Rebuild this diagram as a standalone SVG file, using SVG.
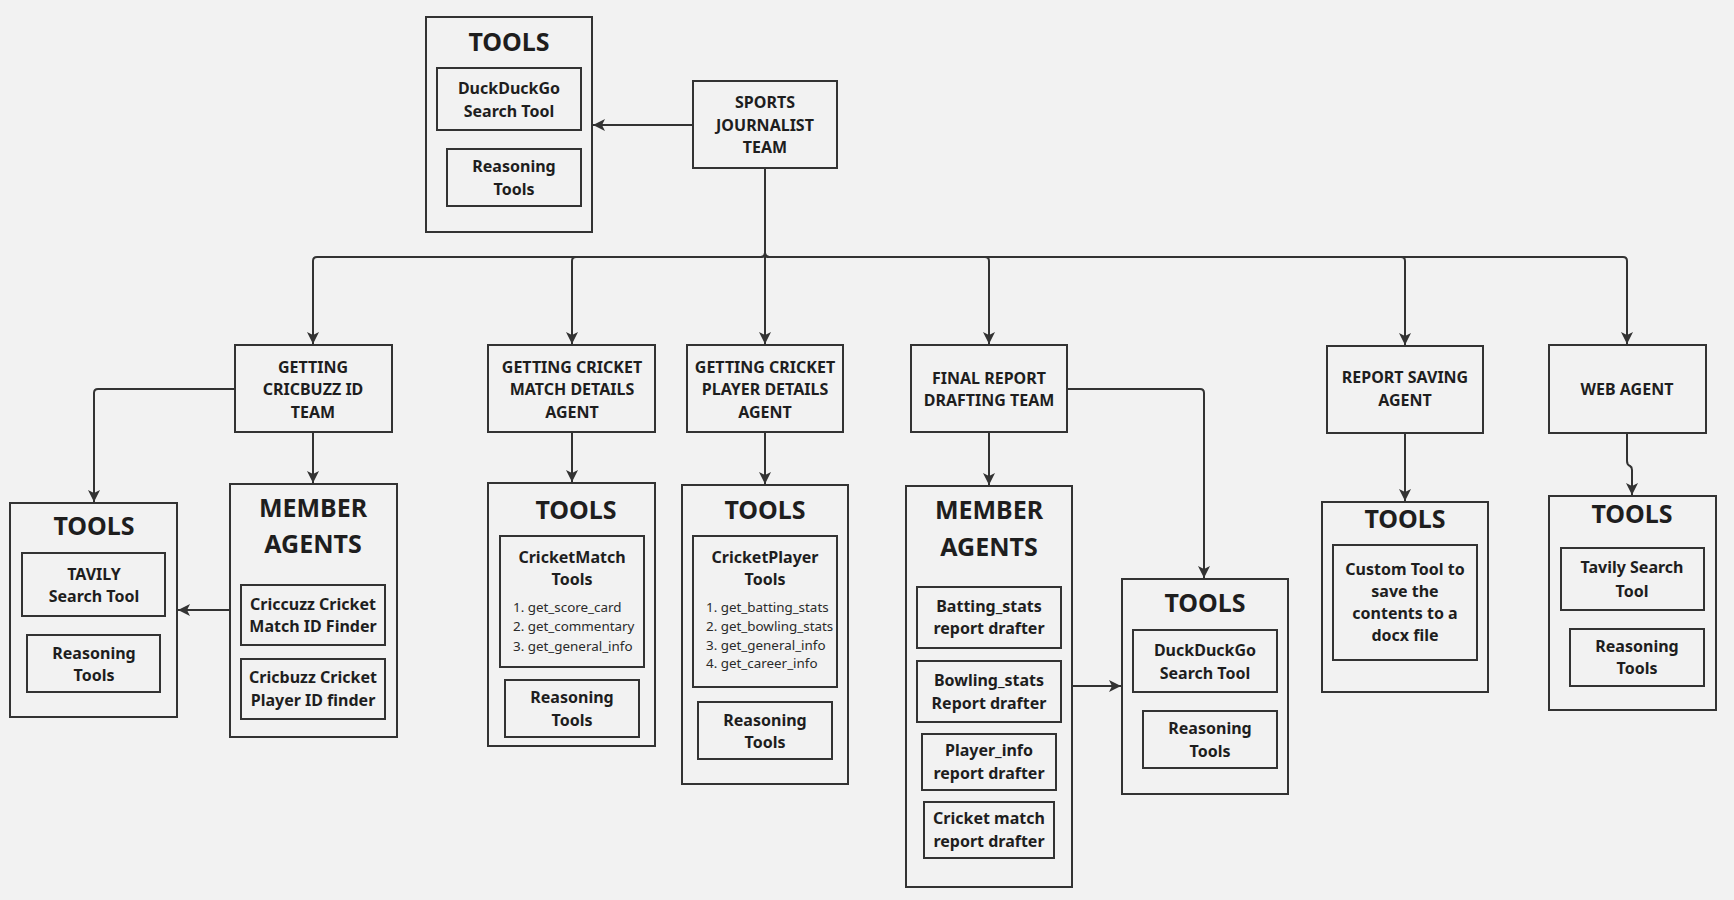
<svg xmlns="http://www.w3.org/2000/svg" width="1734" height="900" viewBox="0 0 1734 900">
<defs>
<style>
.b{fill:none;stroke:#333;stroke-width:2}
.c{fill:none;stroke:#333;stroke-width:2;marker-end:url(#arr)}
text{font-family:"Noto Sans","Open Sans","Liberation Sans",sans-serif;fill:#1e1e1e;text-anchor:middle}
.l{font-size:16px;font-weight:bold}
.h{font-size:25px;font-weight:bold}
.s{font-size:13.4px;text-anchor:start;fill:#2a2a2a}
</style>
<marker id="arr" markerUnits="userSpaceOnUse" markerWidth="14" markerHeight="14" viewBox="0 0 14 14" refX="12" refY="7" orient="auto">
<path d="M0,1 L12,7 L0,13 L3,7 Z" fill="#333"/>
</marker>
</defs>
<rect width="1734" height="900" fill="#f2f2f2"/>

<g id="connectors">
<path class="c" d="M693,125 H593"/>
<path class="c" d="M765,168 V253 Q765,257 761,257 H317 Q313,257 313,261 V344"/>
<path class="c" d="M765,168 V253 Q765,257 761,257 H576 Q572,257 572,261 V344"/>
<path class="c" d="M765,168 V344"/>
<path class="c" d="M765,168 V253 Q765,257 769,257 H985 Q989,257 989,261 V344"/>
<path class="c" d="M765,168 V253 Q765,257 769,257 H1401 Q1405,257 1405,261 V345"/>
<path class="c" d="M765,168 V253 Q765,257 769,257 H1623 Q1627,257 1627,261 V344"/>
<path class="c" d="M235,389 H98 Q94,389 94,393 V502"/>
<path class="c" d="M313,432 V483"/>
<path class="c" d="M230,610 H178"/>
<path class="c" d="M572,432 V482"/>
<path class="c" d="M765,432 V484"/>
<path class="c" d="M1067,389 H1200 Q1204,389 1204,393 V578"/>
<path class="c" d="M989,432 V485"/>
<path class="c" d="M1072,686 H1121"/>
<path class="c" d="M1405,433 V501"/>
<path class="c" d="M1627,433 V461 Q1627,465 1630,466 Q1632,467 1632,470 V495"/>
</g>

<g id="tools-top">
<rect class="b" x="426" y="17" width="166" height="215"/>
<text class="h" x="509" y="51">TOOLS</text>
<rect class="b" x="437" y="68" width="144" height="62"/>
<text class="l" x="509" y="94">DuckDuckGo</text>
<text class="l" x="509" y="117">Search Tool</text>
<rect class="b" x="447" y="149" width="134" height="57"/>
<text class="l" x="514" y="172">Reasoning</text>
<text class="l" x="514" y="195">Tools</text>
</g>

<g id="sports-journalist-team">
<rect class="b" x="693" y="81" width="144" height="87"/>
<text class="l" x="765" y="108">SPORTS</text>
<text class="l" x="765" y="131">JOURNALIST</text>
<text class="l" x="765" y="153">TEAM</text>
</g>

<g id="cricbuzz-team">
<rect class="b" x="235" y="345" width="157" height="87"/>
<text class="l" x="313" y="373">GETTING</text>
<text class="l" x="313" y="395">CRICBUZZ ID</text>
<text class="l" x="313" y="418">TEAM</text>
</g>

<g id="cricbuzz-tools">
<rect class="b" x="10" y="503" width="167" height="214"/>
<text class="h" x="94" y="535">TOOLS</text>
<rect class="b" x="22" y="553" width="143" height="63"/>
<text class="l" x="94" y="580">TAVILY</text>
<text class="l" x="94" y="602">Search Tool</text>
<rect class="b" x="27" y="635" width="133" height="57"/>
<text class="l" x="94" y="659">Reasoning</text>
<text class="l" x="94" y="681">Tools</text>
</g>

<g id="cricbuzz-members">
<rect class="b" x="230" y="484" width="167" height="253"/>
<text class="h" x="313" y="517">MEMBER</text>
<text class="h" x="313" y="553">AGENTS</text>
<rect class="b" x="241" y="585" width="144" height="60"/>
<text class="l" x="313" y="610">Criccuzz Cricket</text>
<text class="l" x="313" y="632">Match ID Finder</text>
<rect class="b" x="241" y="659" width="144" height="60"/>
<text class="l" x="313" y="683">Cricbuzz Cricket</text>
<text class="l" x="313" y="706">Player ID finder</text>
</g>

<g id="match-agent">
<rect class="b" x="488" y="345" width="167" height="87"/>
<text class="l" x="572" y="373">GETTING CRICKET</text>
<text class="l" x="572" y="395">MATCH DETAILS</text>
<text class="l" x="572" y="418">AGENT</text>
</g>

<g id="match-tools">
<rect class="b" x="488" y="483" width="167" height="263"/>
<text class="h" x="576" y="519">TOOLS</text>
<rect class="b" x="500" y="536" width="144" height="131"/>
<text class="l" x="572" y="563">CricketMatch</text>
<text class="l" x="572" y="585">Tools</text>
<text class="s" x="513" y="612">1. get_score_card</text>
<text class="s" x="513" y="631">2. get_commentary</text>
<text class="s" x="513" y="651">3. get_general_info</text>
<rect class="b" x="505" y="680" width="134" height="57"/>
<text class="l" x="572" y="703">Reasoning</text>
<text class="l" x="572" y="726">Tools</text>
</g>

<g id="player-agent">
<rect class="b" x="687" y="345" width="156" height="87"/>
<text class="l" x="765" y="373">GETTING CRICKET</text>
<text class="l" x="765" y="395">PLAYER DETAILS</text>
<text class="l" x="765" y="418">AGENT</text>
</g>

<g id="player-tools">
<rect class="b" x="682" y="485" width="166" height="299"/>
<text class="h" x="765" y="519">TOOLS</text>
<rect class="b" x="693" y="536" width="144" height="151"/>
<text class="l" x="765" y="563">CricketPlayer</text>
<text class="l" x="765" y="585">Tools</text>
<text class="s" x="706" y="612">1. get_batting_stats</text>
<text class="s" x="706" y="631">2. get_bowling_stats</text>
<text class="s" x="706" y="650">3. get_general_info</text>
<text class="s" x="706" y="668">4. get_career_info</text>
<rect class="b" x="698" y="702" width="134" height="57"/>
<text class="l" x="765" y="726">Reasoning</text>
<text class="l" x="765" y="748">Tools</text>
</g>

<g id="final-report-team">
<rect class="b" x="911" y="345" width="156" height="87"/>
<text class="l" x="989" y="384">FINAL REPORT</text>
<text class="l" x="989" y="406">DRAFTING TEAM</text>
</g>

<g id="final-members">
<rect class="b" x="906" y="486" width="166" height="401"/>
<text class="h" x="989" y="519">MEMBER</text>
<text class="h" x="989" y="556">AGENTS</text>
<rect class="b" x="917" y="587" width="144" height="61"/>
<text class="l" x="989" y="612">Batting_stats</text>
<text class="l" x="989" y="634">report drafter</text>
<rect class="b" x="917" y="661" width="144" height="61"/>
<text class="l" x="989" y="686">Bowling_stats</text>
<text class="l" x="989" y="709">Report drafter</text>
<rect class="b" x="922" y="734" width="134" height="56"/>
<text class="l" x="989" y="756">Player_info</text>
<text class="l" x="989" y="779">report drafter</text>
<rect class="b" x="924" y="802" width="130" height="56"/>
<text class="l" x="989" y="824">Cricket match</text>
<text class="l" x="989" y="847">report drafter</text>
</g>

<g id="final-tools">
<rect class="b" x="1122" y="579" width="166" height="215"/>
<text class="h" x="1205" y="612">TOOLS</text>
<rect class="b" x="1133" y="630" width="144" height="62"/>
<text class="l" x="1205" y="656">DuckDuckGo</text>
<text class="l" x="1205" y="679">Search Tool</text>
<rect class="b" x="1143" y="711" width="134" height="57"/>
<text class="l" x="1210" y="734">Reasoning</text>
<text class="l" x="1210" y="757">Tools</text>
</g>

<g id="report-saving-agent">
<rect class="b" x="1327" y="346" width="156" height="87"/>
<text class="l" x="1405" y="383">REPORT SAVING</text>
<text class="l" x="1405" y="406">AGENT</text>
</g>

<g id="report-tools">
<rect class="b" x="1322" y="502" width="166" height="190"/>
<text class="h" x="1405" y="528">TOOLS</text>
<rect class="b" x="1333" y="545" width="144" height="115"/>
<text class="l" x="1405" y="575">Custom Tool to</text>
<text class="l" x="1405" y="597">save the</text>
<text class="l" x="1405" y="619">contents to a</text>
<text class="l" x="1405" y="641">docx file</text>
</g>

<g id="web-agent">
<rect class="b" x="1549" y="345" width="157" height="88"/>
<text class="l" x="1627" y="395">WEB AGENT</text>
</g>

<g id="web-tools">
<rect class="b" x="1549" y="496" width="167" height="214"/>
<text class="h" x="1632" y="523">TOOLS</text>
<rect class="b" x="1561" y="548" width="143" height="62"/>
<text class="l" x="1632" y="573">Tavily Search</text>
<text class="l" x="1632" y="597">Tool</text>
<rect class="b" x="1570" y="629" width="134" height="57"/>
<text class="l" x="1637" y="652">Reasoning</text>
<text class="l" x="1637" y="674">Tools</text>
</g>
</svg>
